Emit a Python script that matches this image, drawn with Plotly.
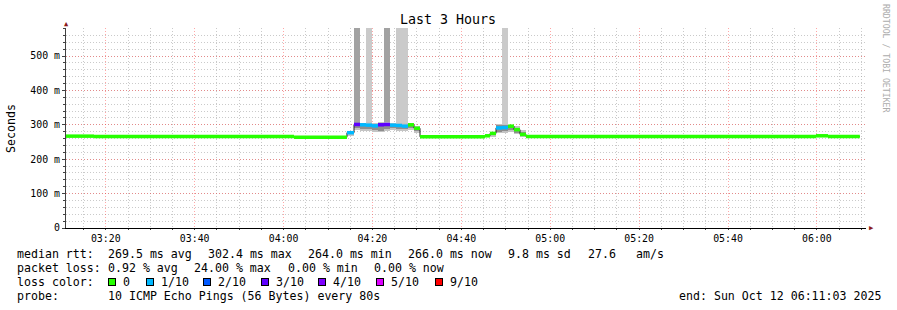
import plotly.graph_objects as go
from datetime import datetime

# ---------------- data ----------------
DAY = "2025-10-12"
view_start = "03:11:03"
view_end = "06:11:03"
data_end = "06:09:40"

# step start times (each step lasts until the next start)
step_start = ["03:11:03", "03:17:21", "04:02:21",
              "04:14:16", "04:15:51", "04:17:12", "04:18:33", "04:19:54", "04:21:15",
              "04:22:36", "04:23:57", "04:25:18", "04:26:39", "04:28:00", "04:29:21",
              "04:30:42",
              "04:45:19", "04:46:27", "04:47:48", "04:49:09", "04:50:30", "04:51:51",
              "04:53:12", "04:54:33",
              "05:59:48", "06:02:30"]
# median rtt in ms
median_ms = [267, 266, 264,
             277, 301, 300, 299, 297, 300,
             301, 299, 298, 296, 300, 290,
             265,
             268, 275, 291, 292, 296, 286,
             272, 266,
             268, 266]
# packet loss in tenths (out of 10 pings)
loss_tenths = [0, 0, 0,
               1, 3, 1, 1, 1, 3,
               3, 1, 1, 1, 0, 0,
               0,
               0, 0, 1, 1, 0, 0,
               0, 0,
               0, 0]
# smoke (spread of the pings) in ms
smoke_outer_lo = [None, None, None,
                  268, 285, 283, 282, 280, 278,
                  283, 285, 281, 282, 285, 275,
                  None,
                  264, 266, 275, 276, 280, 272,
                  266, None,
                  267, None]
smoke_outer_hi = [None, None, None,
                  283, 306, 305, 307, 304, 307,
                  307, 306, 306, 305, 304, 296,
                  None,
                  272, 280, 302, 303, 300, 296,
                  286, None,
                  274, None]
smoke_inner_lo = [None, None, None,
                  272, 290, 288, 289, 285, 283,
                  288, 290, 287, 288, 292, 282,
                  None,
                  266, 270, 280, 281, 284, 276,
                  268, None,
                  None, None]
smoke_inner_hi = [None, None, None,
                  280, 303, 302, 303, 300, 304,
                  304, 302, 301, 300, 302, 292,
                  None,
                  270, 278, 298, 299, 298, 292,
                  280, None,
                  None, None]
# outlier pings far above the view: number of pings (1 or 2) and their rtt
high_ping_count = [0, 0, 0,
                   0, 2, 0, 1, 0, 0,
                   2, 0, 1, 1, 0, 0,
                   0,
                   0, 0, 0, 1, 0, 0,
                   0, 0,
                   0, 0]
high_ping_ms = [None, None, None,
                None, 1450, None, 1210, None, None,
                1380, None, 1290, 1100, None, None,
                None,
                None, None, None, 1020, None, None,
                None, None,
                None, None]

loss_labels = ["0", "1/10", "2/10", "3/10", "4/10", "5/10", "9/10"]
loss_levels = [0, 1, 2, 3, 4, 5, 9]
loss_colors = ["#26ff00", "#00b8ff", "#0059ff", "#5e00ff", "#7e00ff", "#dd00ff", "#ff0000"]

y_tick_vals = [0, 100, 200, 300, 400, 500]
y_tick_text = ["0", "100 m", "200 m", "300 m", "400 m", "500 m"]

median_row = ["median rtt:", "269.5 ms avg", "302.4 ms max", "264.0 ms min",
              "266.0 ms now", "9.8 ms sd", "27.6", "am/s"]
loss_row = ["packet loss:", "0.92 % avg", "24.00 % max", "0.00 % min", "0.00 % now"]
probe_row = ["probe:", "10 ICMP Echo Pings (56 Bytes) every 80s"]
end_text = "end: Sun Oct 12 06:11:03 2025"
title_text = "Last 3 Hours"
y_title = "Seconds"
watermark = "RRDTOOL / TOBI OETIKER"

# ---------------- helpers ----------------
def ts(hms):
    return datetime.strptime(DAY + " " + hms, "%Y-%m-%d %H:%M:%S")

starts = [ts(s) for s in step_start]
ends = starts[1:] + [ts(data_end)]
dur_ms = [(e - s).total_seconds() * 1000.0 for s, e in zip(starts, ends)]
color_of = dict(zip(loss_levels, loss_colors))

L, R, T, B = 66, 31, 28, 82
W, H = 897, 310
PW, PH = W - L - R, H - T - B

def px(x):
    return (x - L) / PW

def py(y):
    return (H - B - y) / PH

MONO = "DejaVu Sans Mono"

fig = go.Figure()

def add_bars(lo, hi, colors):
    xs, ys, bs, ws, cs = [], [], [], [], []
    for i in range(len(starts)):
        if lo[i] is None or hi[i] is None:
            continue
        xs.append(starts[i]); bs.append(lo[i]); ys.append(hi[i] - lo[i])
        ws.append(dur_ms[i]); cs.append(colors[i] if isinstance(colors, list) else colors)
    fig.add_trace(go.Bar(x=xs, y=ys, base=bs, width=ws, offset=0,
                         marker=dict(color=cs, line=dict(width=0)),
                         hoverinfo="skip"))

# outlier bars (one ping -> light, two pings -> darker)
hp_lo = [smoke_outer_hi[i] if high_ping_count[i] else None for i in range(len(starts))]
hp_hi = [high_ping_ms[i] if high_ping_count[i] else None for i in range(len(starts))]
hp_col = ["#a2a2a2" if c == 2 else "#cacaca" for c in high_ping_count]
add_bars(hp_lo, hp_hi, hp_col)
add_bars(smoke_outer_lo, smoke_outer_hi, "#c4c4c4")
add_bars(smoke_inner_lo, smoke_inner_hi, "#8e8e8e")

# dark median step line
fig.add_trace(go.Scatter(x=starts + [ends[-1]], y=median_ms + [median_ms[-1]],
                         mode="lines", line=dict(color="#202020", width=1, shape="hv"),
                         hoverinfo="skip"))

# coloured median band by loss
for lvl in loss_levels:
    xs, ys = [], []
    for i in range(len(starts)):
        if loss_tenths[i] == lvl:
            xs += [starts[i], ends[i], None]
            ys += [median_ms[i], median_ms[i], None]
    if xs:
        fig.add_trace(go.Scatter(x=xs, y=ys, mode="lines",
                                 line=dict(color=color_of[lvl], width=3.5),
                                 hoverinfo="skip"))

grid_major = "rgba(255,60,60,0.45)"
grid_minor = "rgba(150,150,150,0.5)"
dash = "1px,2px"

fig.update_layout(
    width=W, height=H, margin=dict(l=L, r=R, t=T, b=B, pad=0, autoexpand=False),
    paper_bgcolor="white", plot_bgcolor="white", showlegend=False,
    barmode="overlay", bargap=0,
    xaxis=dict(type="date", range=[ts(view_start), ts(view_end)],
               tickformat="%H:%M", dtick=1200000, tick0=DAY + " 03:20:00",
               showgrid=True, gridcolor=grid_major, griddash=dash, gridwidth=1,
               minor=dict(dtick=300000, showgrid=True, gridcolor=grid_minor,
                          griddash=dash, ticks="outside", ticklen=1, tickcolor="#404040"),
               showline=True, linecolor="black", linewidth=1,
               ticks="outside", ticklen=1, tickcolor="#404040",
               tickfont=dict(family=MONO, size=9.9, color="black"),
               zeroline=False, fixedrange=True),
    yaxis=dict(range=[0, 581.4], tickvals=y_tick_vals, ticktext=y_tick_text,
               showgrid=True, gridcolor=grid_major, griddash=dash, gridwidth=1,
               minor=dict(dtick=20, showgrid=True, gridcolor=grid_minor,
                          griddash=dash, ticks="outside", ticklen=2, tickcolor="#404040"),
               showline=True, linecolor="#404040", linewidth=1,
               ticks="outside", ticklen=3, tickcolor="#404040",
               tickfont=dict(family=MONO, size=9.9, color="black"),
               zeroline=False, fixedrange=True),
)

ann = []

def text(x, y, s, size=11.6, anchor="left", color="black", angle=0):
    ann.append(dict(x=px(x), y=py(y), xref="paper", yref="paper", text=s.replace(" ", "\u00a0"),
                    showarrow=False, xanchor=anchor, yanchor="middle", textangle=angle,
                    font=dict(family=MONO, size=size, color=color), borderpad=0))

text(448, 19, title_text, size=13.3, anchor="center")
text(11, 128, y_title, size=11.6, anchor="center", angle=-90)
text(886, 59, watermark, size=8.2, anchor="center", color="#acacac", angle=90)
text(66.6, 24, "\u25b2", size=7, anchor="center", color="#8b1a1a")
text(871, 228, "\u25b6", size=7, anchor="center", color="#8b1a1a")

median_x = [16, 107, 207, 307, 407, 507, 587, 635]
for x, s in zip(median_x, median_row):
    text(x, 254, s)
loss_x = [16, 107, 193, 287, 373]
for x, s in zip(loss_x, loss_row):
    text(x, 268, s)
text(16, 282, "loss color:")
box_x = [108, 146, 203, 261, 318, 376, 435]
for x, lab, col in zip(box_x, loss_labels, loss_colors):
    ann.append(dict(x=px(x), y=py(282), xref="paper", yref="paper", text="",
                    showarrow=False, xanchor="left", yanchor="middle",
                    width=6, height=6, bgcolor=col, bordercolor="black",
                    borderwidth=1, borderpad=0, font=dict(size=1)))
    text(x + 14, 282, lab)
probe_x = [16, 107]
for x, s in zip(probe_x, probe_row):
    text(x, 296, s)
text(678, 296, end_text)

fig.update_layout(annotations=ann)
fig.write_html("out.html")
